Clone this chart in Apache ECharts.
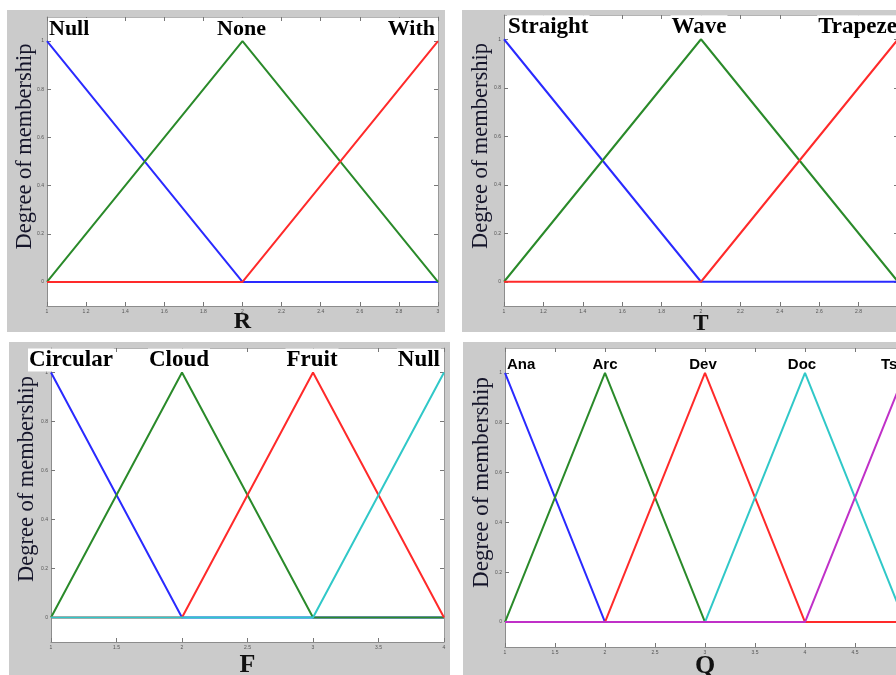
<!DOCTYPE html>
<html>
<head>
<meta charset="utf-8">
<script src="https://cdn.jsdelivr.net/npm/echarts@6/dist/echarts.min.js"></script>
<style>
  html, body { margin: 0; padding: 0; background: #ffffff; overflow: hidden; }
  #chart { width: 920px; height: 675px; }
</style>
</head>
<body>
<div id="chart"></div>
<script>
// ---- Membership functions: breakpoints on the universe and degree at each breakpoint ----
const rX = [1, 2, 3];
const rNull = [1, 0, 0];
const rNone = [0, 1, 0];
const rWith = [0, 0, 1];

const tX = [1, 2, 3];
const tStraight = [1, 0, 0];
const tWave = [0, 1, 0];
const tTrapeze = [0, 0, 1];

const fX = [1, 2, 3, 4];
const fCircular = [1, 0, 0, 0];
const fCloud = [0, 1, 0, 0];
const fFruit = [0, 0, 1, 0];
const fNull = [0, 0, 0, 1];

const qX = [1, 2, 3, 4, 5];
const qAna = [1, 0, 0, 0, 0];
const qArc = [0, 1, 0, 0, 0];
const qDev = [0, 0, 1, 0, 0];
const qDoc = [0, 0, 0, 1, 0];
const qTs = [0, 0, 0, 0, 1];

// Degree-of-membership ticks
const yTicks = [0, 0.2, 0.4, 0.6, 0.8, 1];

// ---- Styling ----
const C_BLUE = '#2a2aff', C_GREEN = '#2a8a2a', C_RED = '#ff2a2a', C_CYAN = '#30c8c8', C_MAG = '#c030c8';
const SERIF = '"Liberation Serif", "Times New Roman", serif';
const SANS = '"Liberation Sans", Arial, sans-serif';
const PANEL_BG = '#cbcbcb';

const panels = [
  {
    axisName: 'R', bg: [7, 10, 438, 322],
    grid: { left: 47, top: 17, width: 391, height: 289 },
    xMin: 1, xMax: 3, xStep: 0.2, xs: rX,
    yNameGap: 10, yNameShift: 30, yNameSize: 22.5, xNameGap: 16, xNameSize: 24,
    font: SERIF, fontSize: 22,
    sets: [
      { name: 'Null', vals: rNull, color: C_BLUE, align: 'left', dx: 1 },
      { name: 'None', vals: rNone, color: C_GREEN, align: 'center', dx: -1 },
      { name: 'With', vals: rWith, color: C_RED, align: 'right', dx: -2 }
    ]
  },
  {
    axisName: 'T', bg: [462, 10, 460, 322],
    grid: { left: 504, top: 15, width: 394, height: 291 },
    xMin: 1, xMax: 3, xStep: 0.2, xs: tX,
    yNameGap: 11, yNameShift: 29, yNameSize: 22.5, xNameGap: 18, xNameSize: 23,
    font: SERIF, fontSize: 23,
    sets: [
      { name: 'Straight', vals: tStraight, color: C_BLUE, align: 'left', dx: 3 },
      { name: 'Wave', vals: tWave, color: C_GREEN, align: 'center', dx: -2 },
      { name: 'Trapeze', vals: tTrapeze, color: C_RED, align: 'right', dx: 0 }
    ]
  },
  {
    axisName: 'F', bg: [9, 342, 441, 340],
    grid: { left: 51, top: 348, width: 393, height: 294 },
    xMin: 1, xMax: 4, xStep: 0.5, xs: fX,
    yNameGap: 12, yNameShift: 32, yNameSize: 22.5, xNameGap: 23, xNameSize: 26,
    font: SERIF, fontSize: 23,
    sets: [
      { name: 'Circular', vals: fCircular, color: C_BLUE, align: 'left', dx: -23 },
      { name: 'Cloud', vals: fCloud, color: C_GREEN, align: 'center', dx: -3 },
      { name: 'Fruit', vals: fFruit, color: C_RED, align: 'center', dx: -1 },
      { name: 'Null', vals: fNull, color: C_CYAN, align: 'right', dx: -3 }
    ]
  },
  {
    axisName: 'Q', bg: [463, 342, 460, 340],
    grid: { left: 505, top: 348, width: 400, height: 299 },
    xMin: 1, xMax: 5, xStep: 0.5, xs: qX,
    yNameGap: 12, yNameShift: 30, yNameSize: 23, xNameGap: 19, xNameSize: 26,
    font: SANS, fontSize: 15,
    sets: [
      { name: 'Ana', vals: qAna, color: C_BLUE, align: 'left', dx: 1 },
      { name: 'Arc', vals: qArc, color: C_GREEN, align: 'center', dx: 0 },
      { name: 'Dev', vals: qDev, color: C_RED, align: 'center', dx: -2 },
      { name: 'Doc', vals: qDoc, color: C_CYAN, align: 'center', dx: -3 },
      { name: 'Ts', vals: qTs, color: C_MAG, align: 'left', dx: -25 }
    ]
  }
];

const grids = [], xAxes = [], yAxes = [], series = [], graphics = [];

const tickStyle = { show: true, inside: true, length: 4, lineStyle: { color: '#777', width: 1 } };
const tickLabel = { fontSize: 5, color: '#555', margin: 3, fontFamily: SANS };

panels.forEach((p, gi) => {
  graphics.push({
    type: 'rect', silent: true, z: -10,
    shape: { x: p.bg[0], y: p.bg[1], width: p.bg[2], height: p.bg[3] },
    style: { fill: PANEL_BG }
  });

  grids.push(Object.assign({
    show: true, backgroundColor: '#ffffff', borderWidth: 0,
    containLabel: false, outerBoundsMode: 'none'
  }, p.grid));

  // bottom axis with the variable name
  xAxes.push({
    type: 'value', gridIndex: gi, position: 'bottom',
    min: p.xMin, max: p.xMax, interval: p.xStep,
    axisLine: { show: true, onZero: false, lineStyle: { color: '#8c8c8c', width: 1 } },
    axisTick: tickStyle, axisLabel: tickLabel, splitLine: { show: false },
    name: p.axisName, nameLocation: 'middle', nameGap: p.xNameGap, nameMoveOverlap: false,
    nameTextStyle: {
      fontFamily: SERIF, fontWeight: 'bold', fontSize: p.xNameSize, color: '#111',
      verticalAlign: 'middle'
    }
  });
  // top frame
  xAxes.push({
    type: 'value', gridIndex: gi, position: 'top',
    min: p.xMin, max: p.xMax, interval: p.xStep,
    axisLine: { show: true, onZero: false, lineStyle: { color: '#b4b4b4', width: 1 } },
    axisTick: tickStyle, axisLabel: { show: false }, splitLine: { show: false }
  });
  // left axis
  yAxes.push({
    type: 'value', gridIndex: gi, position: 'left',
    min: -0.1, max: 1.1,
    axisLine: { show: true, onZero: false, lineStyle: { color: '#8c8c8c', width: 1 } },
    axisTick: Object.assign({ customValues: yTicks }, tickStyle),
    axisLabel: Object.assign({ customValues: yTicks }, tickLabel),
    splitLine: { show: false },
    name: 'Degree of membership', nameLocation: 'middle', nameGap: p.yNameGap, nameMoveOverlap: false,
    nameTextStyle: {
      fontFamily: SERIF, fontSize: p.yNameSize, color: '#15152a',
      padding: [0, 0, 0, p.yNameShift]
    }
  });
  // right frame
  yAxes.push({
    type: 'value', gridIndex: gi, position: 'right',
    min: -0.1, max: 1.1,
    axisLine: { show: true, onZero: false, lineStyle: { color: '#9a9a9a', width: 1 } },
    axisTick: Object.assign({ customValues: yTicks }, tickStyle),
    axisLabel: { show: false }, splitLine: { show: false }
  });

  p.sets.forEach(s => {
    const peak = s.vals.indexOf(Math.max.apply(null, s.vals));
    const data = p.xs.map((x, i) => {
      const item = { value: [x, s.vals[i]] };
      if (i === peak) {
        item.label = {
          show: true, position: 'top', distance: 1,
          align: s.align, offset: [s.dx, 0],
          formatter: s.name,
          fontFamily: p.font, fontWeight: 'bold', fontSize: p.fontSize,
          color: '#000', backgroundColor: '#ffffff', padding: [0, 1, 0, 1]
        };
      }
      return item;
    });
    series.push({
      type: 'line', name: s.name,
      xAxisIndex: gi * 2, yAxisIndex: gi * 2,
      data: data,
      symbol: 'circle', symbolSize: 0, showSymbol: true,
      lineStyle: { color: s.color, width: 2 },
      itemStyle: { color: s.color },
      label: { show: false },
      emphasis: { disabled: true },
      animation: false, clip: false
    });
  });
});

const chart = echarts.init(document.getElementById('chart'), null, { renderer: 'canvas' });
chart.setOption({
  backgroundColor: '#ffffff',
  animation: false,
  graphic: graphics,
  grid: grids,
  xAxis: xAxes,
  yAxis: yAxes,
  series: series
});
</script>
</body>
</html>
